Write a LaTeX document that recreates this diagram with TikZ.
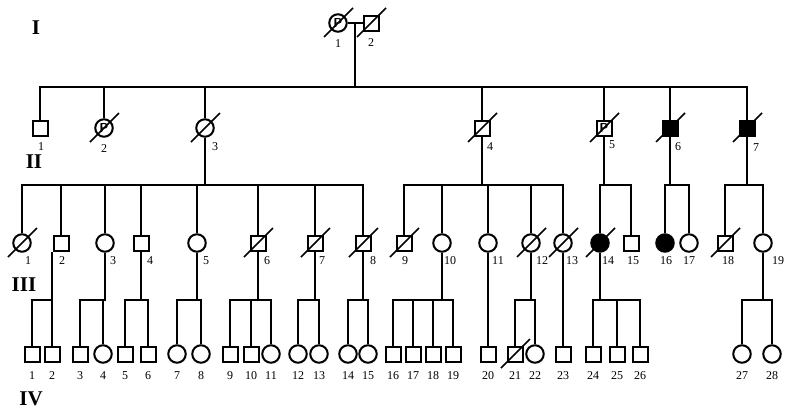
\documentclass[tikz,border=0pt]{standalone}
\usepackage{fontspec}
\setmainfont{Liberation Serif}
\begin{document}
\begin{tikzpicture}[x=1pt, y=-1pt,
		male/.style={draw, rectangle, minimum size=15pt, inner sep=0pt, line width=2pt},
		female/.style={draw, circle, minimum size=17.5pt, inner sep=0pt, line width=2pt},
		carrier/.style={path picture={\node[font=\fontsize{13}{13}\selectfont\sffamily\bfseries, inner sep=0pt] at (path picture bounding box.center) {P};}},
		maleP/.style={male, carrier},
		femaleP/.style={female, carrier},
		maleill/.style={male, fill=black},
		femaleill/.style={female, fill=black},
		num/.style={font=\fontsize{12}{12}\selectfont, inner sep=0pt},
		gen/.style={font=\fontsize{21}{21}\selectfont\bfseries, inner sep=0pt},
		link/.style={line width=2pt},
		dead/.style={line width=1.6pt}]
	\useasboundingbox (0,0) rectangle (788,410);
	% Generationen
	\node[gen] (gI) at (36,28) {I};
	\node[gen] (gII) at (34,162) {II};
	\node[gen] (gIII) at (24,285) {III};
	\node[gen] (gIV) at (31,399) {IV};
	% Hilfslinien der Geschwister
	\coordinate (m1) at (355,23);
	\coordinate (bII) at (0,87);
	\coordinate (bIII) at (0,185);
	\coordinate (bIV) at (0,300);
	% Generation I
	\node[femaleP] (I1) at (338,23) {};
	\node[male] (I2) at (371,23) {};
	\node[num] (nI1) at (338,44) {1};
	\node[num] (nI2) at (371,43) {2};
	% Generation II
	\foreach \n/\x/\s/\lx/\ly in {1/40/male/41/147, 2/104/femaleP/104/149, 3/205/female/215/147,
			4/482/male/490/147, 5/604/maleP/612/145, 6/670/maleill/678/147, 7/747/maleill/756/148}
		\node[\s] (II\n) at (\x,128) {} node[num] (nII\n) at (\lx,\ly) {\n};
	% Generation III
	\foreach \n/\x/\s/\lx in {1/22/female/28, 2/61/male/62, 3/105/female/113, 4/141/male/150,
			5/197/female/206, 6/258/male/267, 7/315/male/322, 8/363/male/373, 9/404/male/405,
			10/442/female/450, 11/488/female/498, 12/531/female/542, 13/563/female/572,
			14/600/femaleill/608, 15/631/male/633, 16/665/femaleill/666, 17/689/female/689,
			18/725/male/728, 19/763/female/778}
		\node[\s] (III\n) at (\x,243) {} node[num] (nIII\n) at (\lx,261) {\n};
	% Generation IV
	\foreach \n/\x/\s in {1/32/male, 2/52/male, 3/80/male, 4/103/female, 5/125/male, 6/148/male,
			7/177/female, 8/201/female, 9/230/male, 10/251/male, 11/271/female, 12/298/female,
			13/319/female, 14/348/female, 15/368/female, 16/393/male, 17/413/male, 18/433/male,
			19/453/male, 20/488/male, 21/515/male, 22/535/female, 23/563/male, 24/593/male,
			25/617/male, 26/640/male, 27/742/female, 28/772/female}
		\node[\s] (IV\n) at (\x,354) {} node[num] (nIV\n) at (\x,376) {\n};
	% Verbindungen
	\draw[link] (I1) -- (I2);
	\foreach \c in {II1,II2,II3,II4,II5,II6,II7}
		\draw[link] (m1) -- (m1 |- bII) -| (\c.north);
	\foreach \p/\c in {II3/III1, II3/III2, II3/III3, II3/III4, II3/III5, II3/III6, II3/III7, II3/III8,
			II4/III9, II4/III10, II4/III11, II4/III12, II4/III13, II5/III14, II5/III15,
			II6/III16, II6/III17, II7/III18, II7/III19}
		\draw[link] (\p.south) -- (\p |- bIII) -| (\c.north);
	\draw[link] (IV2.north) -- (IV2 |- III2.south);
	\draw[link] (IV2 |- bIV) -| (IV1.north);
	\foreach \p/\c in {III3/IV3, III3/IV4, III4/IV5, III4/IV6, III5/IV7, III5/IV8,
			III6/IV9, III6/IV10, III6/IV11, III7/IV12, III7/IV13, III8/IV14, III8/IV15,
			III10/IV16, III10/IV17, III10/IV18, III10/IV19, III11/IV20, III12/IV21, III12/IV22,
			III13/IV23, III14/IV24, III14/IV25, III14/IV26, III19/IV27, III19/IV28}
		\draw[link] (\p.south) -- (\p |- bIV) -| (\c.north);
	% Verstorbene
	\foreach \p in {I1,I2,II2,II3,II4,II5,II6,II7,III1,III6,III7,III8,III9,III12,III13,III14,III18,IV21}
		\draw[dead] (\p.center) ++(-14,14) -- ++(29,-29);
\end{tikzpicture}
\end{document}
